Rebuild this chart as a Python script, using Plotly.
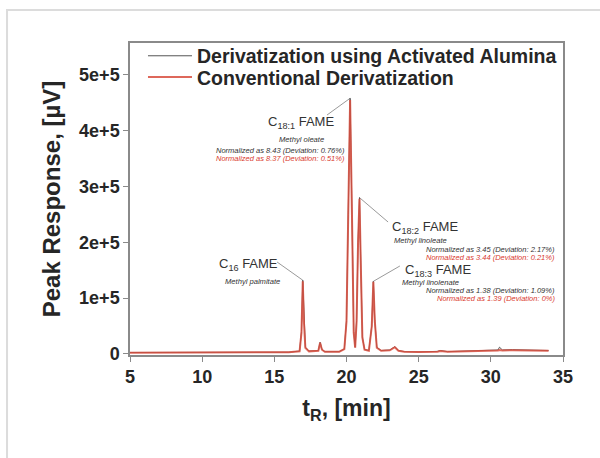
import plotly.graph_objects as go

# Retention time (min) shared by both chromatograms
t_min = [5.0, 6.0, 7.5, 9.0, 10.5, 12.0, 13.0, 14.5, 16.0, 16.75, 16.88, 16.97, 17.05,
         17.15, 17.4, 18.05, 18.17, 18.3, 18.5, 19.5, 19.85, 20.0, 20.12, 20.25, 20.38,
         20.5, 20.6, 20.7, 20.8, 20.9, 21.0, 21.1, 21.25, 21.55, 21.75, 21.86, 21.96,
         22.1, 22.4, 23.0, 23.35, 23.6, 24.0, 25.0, 26.3, 26.5, 27.0, 28.0, 29.0, 30.0,
         30.5, 30.6, 30.8, 31.5, 32.0, 33.0, 34.0]

# Detector response (uV): derivatization using activated alumina
alumina_uv = [2500, 2500, 3000, 2500, 2800, 3000, 3500, 3000, 3000, 5000, 40000, 132000,
              60000, 12000, 5000, 6000, 21000, 8000, 4000, 4000, 9000, 60000, 250000,
              458000, 250000, 40000, 12000, 60000, 200000, 280000, 150000, 30000, 8000,
              6000, 50000, 130000, 60000, 12000, 6000, 7000, 13000, 6000, 4000, 3500,
              4500, 6000, 4000, 4500, 5000, 6000, 7000, 12000, 7000, 7500, 7000, 6500, 6000]

# Detector response (uV): conventional derivatization
conventional_uv = [2000, 2200, 2600, 2300, 2500, 2700, 3000, 2800, 2800, 4500, 38000, 130000,
                   58000, 11000, 4500, 5500, 20000, 7500, 3800, 3800, 8500, 58000, 248000,
                   455000, 248000, 38000, 11000, 58000, 198000, 278000, 148000, 29000, 7500,
                   5500, 49000, 129000, 59000, 11000, 5500, 6500, 12000, 5500, 3800, 3300,
                   4000, 5000, 3800, 4200, 4800, 5500, 6000, 7000, 6200, 6500, 6300, 6000, 5800]

series_names = ["Derivatization using Activated Alumina", "Conventional Derivatization"]

# Labelled FAME peaks
peak_names = ["C<sub>16</sub> FAME", "C<sub>18:1</sub> FAME", "C<sub>18:2</sub> FAME",
              "C<sub>18:3</sub> FAME"]
peak_common = ["Methyl palmitate", "Methyl oleate", "Methyl linoleate", "Methyl linolenate"]
peak_t = [16.97, 20.25, 20.9, 21.86]
peak_uv = [132000, 458000, 280000, 130000]
norm_alumina = ["", "Normalized as 8.43 (Deviation: 0.76%)",
                "Normalized as 3.45 (Deviation: 2.17%)",
                "Normalized as 1.38 (Deviation: 1.09%)"]
norm_conventional = ["", "Normalized as 8.37 (Deviation: 0.51%)",
                     "Normalized as 3.44 (Deviation: 0.21%)",
                     "Normalized as 1.39 (Deviation: 0%)"]

# Where each leader line meets its peak label (min, uV)
leader_t = [15.19, 18.65, 22.88, 23.7]
leader_uv = [164600, 428000, 236300, 157500]

FONT = "Liberation Sans, Arial, sans-serif"
INK = "#262626"
AXIS = "#8a8a8a"

fig = go.Figure()

# leader lines from each peak apex to its label
lx, ly = [], []
for i in range(len(peak_t)):
    lx += [peak_t[i], leader_t[i], None]
    ly += [peak_uv[i], leader_uv[i], None]
fig.add_trace(go.Scatter(x=lx, y=ly, mode="lines", showlegend=False, hoverinfo="skip",
                         line=dict(color="#9a9a9a", width=1)))

fig.add_trace(go.Scatter(x=t_min, y=alumina_uv, mode="lines", name=series_names[0],
                         line=dict(color="#555555", width=1), legend="legend"))
fig.add_trace(go.Scatter(x=t_min, y=conventional_uv, mode="lines", name=series_names[1],
                         line=dict(color="rgba(216,78,62,0.85)", width=2), legend="legend2"))

# Label placement per peak: name, common name and normalisation lines
label_layout = [
    dict(name=(13.18, 161000), common=(13.52, 130000), norm=None, anchor="center"),
    dict(name=(16.85, 415000), common=(16.85, 385000), norm=(20.03, 365000), anchor="center"),
    dict(name=(23.0, 227300), common=(23.15, 204000), norm=(34.6, 187900), anchor="left"),
    dict(name=(23.91, 150300), common=(23.71, 128800), norm=(34.6, 114460), anchor="left"),
]

for i, lay in enumerate(label_layout):
    fig.add_annotation(x=lay["name"][0], y=lay["name"][1], text=peak_names[i], showarrow=False,
                       xanchor=lay["anchor"], yanchor="middle",
                       font=dict(family=FONT, size=13, color="#333333"))
    fig.add_annotation(x=lay["common"][0], y=lay["common"][1], text="<i>%s</i>" % peak_common[i],
                       showarrow=False, xanchor=lay["anchor"], yanchor="middle",
                       font=dict(family=FONT, size=7.6, color="#333333"))
    if lay["norm"]:
        nx, ny = lay["norm"]
        fig.add_annotation(x=nx, y=ny, text="<i>%s</i>" % norm_alumina[i], showarrow=False,
                           xanchor="right", yanchor="middle",
                           font=dict(family=FONT, size=7.5, color="#333333"))
        fig.add_annotation(x=nx, y=ny - 15500, text="<i>%s</i>" % norm_conventional[i],
                           showarrow=False, xanchor="right", yanchor="middle",
                           font=dict(family=FONT, size=7.5, color="#d93a2e"))

# faint frame around the figure
fig.add_shape(type="rect", xref="paper", yref="paper", x0=-0.284, x1=1.3, y0=-0.6, y1=1.106,
              line=dict(color="#dcdcdc", width=2), fillcolor="rgba(0,0,0,0)", layer="below")

axis_common = dict(showline=True, linecolor=AXIS, linewidth=1.5, mirror=True, showgrid=False,
                   zeroline=False, ticks="outside", ticklen=5, tickcolor=AXIS,
                   tickfont=dict(family=FONT, size=18, color=INK, weight="bold"))

legend_common = dict(xanchor="left", yanchor="middle", bgcolor="rgba(0,0,0,0)",
                     font=dict(family=FONT, size=19.5, color=INK, weight="bold"),
                     itemwidth=44, borderwidth=0)

fig.update_layout(
    width=600, height=458,
    margin=dict(l=130, r=37, t=43, b=103),
    paper_bgcolor="white", plot_bgcolor="white",
    xaxis=dict(range=[5, 35], dtick=5, tick0=5,
               title=dict(text="t<sub>R</sub>, [min]", standoff=14,
                          font=dict(family=FONT, size=23, color=INK, weight="bold")),
               **axis_common),
    yaxis=dict(range=[-2000, 557000], tickvals=[0, 100000, 200000, 300000, 400000, 500000],
               ticktext=["0", "1e+5", "2e+5", "3e+5", "4e+5", "5e+5"],
               title=dict(text="Peak Response, [µV]", standoff=12,
                          font=dict(family=FONT, size=24, color=INK, weight="bold")),
               **axis_common),
    legend=dict(x=0.03, y=0.958, **legend_common),
    legend2=dict(x=0.03, y=0.89, **legend_common),
    showlegend=True,
)

fig.write_html("out.html")
